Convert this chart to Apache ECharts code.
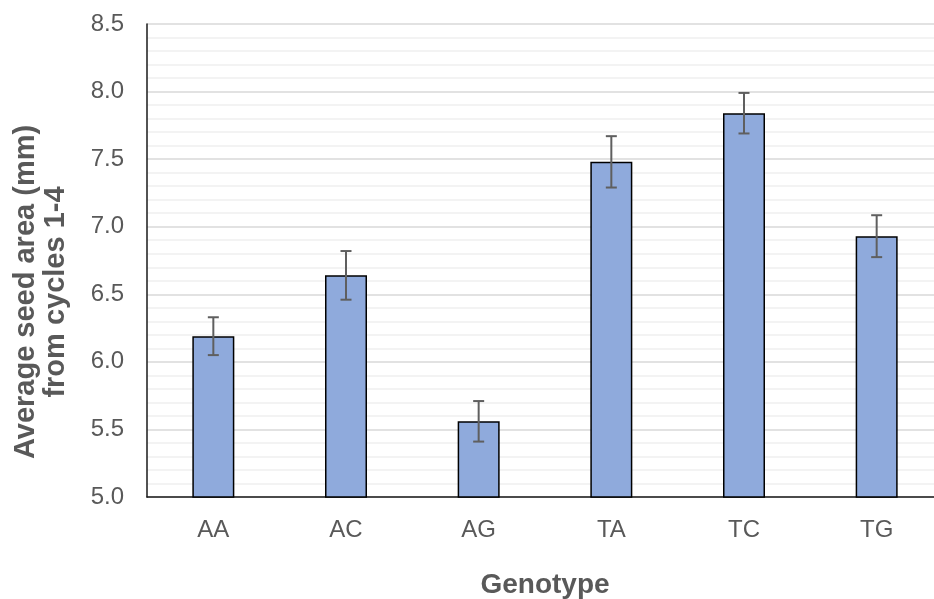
<!DOCTYPE html>
<html>
<head>
<meta charset="utf-8">
<script src="https://cdn.jsdelivr.net/npm/echarts@6/dist/echarts.min.js"></script>
<style>
html, body { margin:0; padding:0; overflow:hidden; background:#fff; }
#main { width:934px; height:599px; }
</style>
</head>
<body>
<div id="main"></div>
<script>
var genotypes = ['AA', 'AC', 'AG', 'TA', 'TC', 'TG'];
var seedArea = [6.19, 6.64, 5.56, 7.48, 7.84, 6.93];   // 平均种子面积
var seedErr = [0.14, 0.18, 0.15, 0.19, 0.15, 0.155];    // 误差

var errData = [];
for (var i = 0; i < genotypes.length; i++) {
    errData.push([i, seedArea[i] - seedErr[i], seedArea[i] + seedErr[i]]);
}

var myChart = echarts.init(document.getElementById('main'));
var font = 'Liberation Sans, Arial, sans-serif';

var option = {
    animation: false,
    // 右边超出画布一点（原图被裁剪）
    grid: { left: 147, right: -9, top: 24, bottom: 102, outerBoundsMode: 'none', containLabel: false },
    xAxis: {
        type: 'category',
        data: genotypes,
        axisTick: { show: false },
        axisLine: { lineStyle: { color: '#1a1a1a', width: 1.5 } },
        axisLabel: { color: '#595959', fontSize: 24, fontFamily: font, margin: 21 },
        name: 'Genotype',
        nameLocation: 'middle',
        nameGap: 74,
        nameTextStyle: { color: '#595959', fontSize: 28, fontWeight: 'bold', fontFamily: font }
    },
    yAxis: {
        type: 'value',
        min: 5,
        max: 8.5,
        interval: 0.5,
        axisLine: { show: true, lineStyle: { color: '#1a1a1a', width: 1.5 } },
        axisTick: { show: false },
        axisLabel: {
            color: '#595959', fontSize: 24, fontFamily: font, margin: 23,
            formatter: function (v) { return v.toFixed(1); }
        },
        splitLine: { lineStyle: { color: '#d9d9d9', width: 1.5 } },
        minorTick: { show: false, splitNumber: 5 },
        minorSplitLine: { show: true, lineStyle: { color: '#f0f0f0', width: 1.5 } }
    },
    graphic: [{
        type: 'text',
        x: 41,
        y: 292,
        rotation: Math.PI / 2,
        style: {
            text: 'Average seed area (mm)\nfrom cycles 1-4',
            fill: '#595959',
            font: 'bold 29px ' + font,
            lineHeight: 30,
            align: 'center',
            verticalAlign: 'middle'
        }
    }],
    series: [{
        type: 'bar',
        data: seedArea,
        barWidth: 42,
        itemStyle: { color: '#8faadc', borderColor: '#000', borderWidth: 1.5 }
    }, {
        type: 'custom',
        data: errData,
        z: 10,
        renderItem: function (params, api) {
            var x = api.value(0);
            var lo = api.coord([x, api.value(1)]);
            var hi = api.coord([x, api.value(2)]);
            var cap = 5.5;
            var st = { stroke: '#5f5f5f', lineWidth: 2 };
            return {
                type: 'group',
                children: [
                    { type: 'line', shape: { x1: hi[0], y1: hi[1], x2: lo[0], y2: lo[1] }, style: st },
                    { type: 'line', shape: { x1: hi[0] - cap, y1: hi[1], x2: hi[0] + cap, y2: hi[1] }, style: st },
                    { type: 'line', shape: { x1: lo[0] - cap, y1: lo[1], x2: lo[0] + cap, y2: lo[1] }, style: st }
                ]
            };
        }
    }]
};
myChart.setOption(option);
</script>
</body>
</html>
